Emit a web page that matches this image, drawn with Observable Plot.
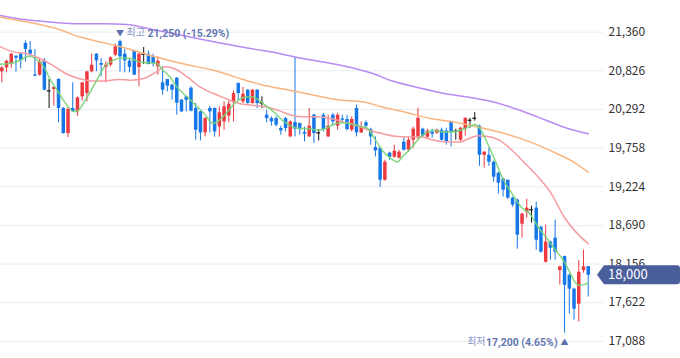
<!DOCTYPE html>
<html><head><meta charset="utf-8">
<script src="https://cdn.jsdelivr.net/npm/d3@7"></script>
<script src="https://cdn.jsdelivr.net/npm/@observablehq/plot@0.6"></script>
<style>
html,body{margin:0;padding:0;background:#fff;}
#chart{width:680px;height:358px;overflow:hidden;}
</style></head><body><div id="chart"></div>
<script>
// ---- daily candles (index 0 = leftmost) ----
const opens  = [20812,20867,20913,21029,21056,21204,21112,20770,20766,20959,20549,20568,20706,20305,19959,20305,20259,20466,20512,20812,21056,20927,20872,20904,21042,21230,21056,20959,21102,20872,21056,21056,21019,20881,20660,20706,20627,20724,20420,20466,20586,20305,20259,19968,20305,20305,20051,20120,20199,20383,20650,20397,20558,20374,20558,20383,20213,20166,20166,20028,20166,19913,20111,20097,19973,19913,20213,19968,20213,19913,20213,20060,20162,20153,20005,20305,19968,20107,20014,19765,19752,19314,19688,19632,19618,19840,19729,19867,19909,20019,19909,19978,19964,20005,19992,20116,19992,19867,20019,20143,20171,20060,19659,19659,19563,19411,19328,19314,19066,19038,18706,18872,18906,18928,18664,18181,18458,18513,18064,18259,18000,17808,17601,18064,18120];
const highs  = [20881,20973,21065,21029,21065,21241,21230,21121,20996,20996,20706,20604,20715,20319,20319,20660,20466,20660,20821,21056,21065,20996,20950,21019,21195,21250,21125,20996,21112,21065,21148,21102,21056,21019,20881,20706,20641,20734,20429,20475,20604,20374,20268,20180,20337,20314,20328,20397,20411,20549,20660,20595,20568,20568,20568,20466,20282,20190,20190,20060,20180,20134,21005,20107,20047,20305,20226,20014,20236,20213,20236,20236,20213,20213,20190,20351,20120,20134,20033,19913,19775,19591,19702,19798,19729,19895,19909,20047,20310,20033,20019,20019,20019,20033,20033,20130,20019,20047,20171,20171,20247,20074,19708,19756,19577,19425,19342,19314,19080,19052,18858,19052,18955,19010,18678,18693,18472,18762,18126,18264,18015,17822,18202,18347,18120];
const lows   = [20660,20798,20858,20807,20853,20950,21019,20745,20752,20549,20305,20337,20107,19950,19904,20254,20199,20406,20397,20798,20812,20743,20660,20881,21019,20807,20798,20798,20761,20604,20913,20909,20881,20766,20489,20535,20420,20213,20250,20259,20259,19867,19858,19913,19968,19908,19908,20005,20107,20120,20411,20374,20365,20365,20305,20305,20107,20060,20051,19936,19982,19904,19913,19936,19844,19904,19821,19858,19982,19904,20060,20005,20097,19996,19982,19913,19959,20028,19798,19636,19212,19300,19591,19618,19610,19715,19702,19757,19867,19909,19881,19895,19950,19853,19798,19775,19867,19853,19923,20033,20130,19507,19480,19507,19287,19121,19080,19052,18941,18361,18513,18790,18720,18347,18306,18167,18209,18209,17863,17200,17463,17380,17356,18029,17700];
const closes = [20867,20959,21056,21001,20964,21121,21056,20752,20950,20558,20549,20595,20305,19959,20291,20259,20452,20660,20812,20904,20964,20904,20904,21005,21158,21019,20964,20872,20766,21056,21056,20913,20927,20959,20558,20614,20558,20379,20259,20420,20268,20005,19968,20166,20259,19982,20245,20328,20365,20512,20512,20503,20374,20558,20374,20383,20166,20120,20074,19996,20028,20120,20019,20014,19950,20060,19959,19968,20014,20060,20120,20213,20143,20014,20153,19968,20051,20060,19913,19719,19314,19563,19632,19715,19702,19729,19867,20019,20171,19923,19992,19950,20005,19867,19840,19978,19992,20033,20171,20143,20171,19659,19701,19563,19356,19273,19176,19066,18969,18554,18845,18928,18906,18485,18319,18458,18375,18319,18117,17862,17808,17532,18043,18117,18000];

// ---- moving averages (position in candle units, price) ----
const ma5Idx = [-0.3,1.6,3.9,5.7,7.1,8.9,10.3,11.7,13.5,15.3,16.2,18.1,19.9,21.7,23.6,25.4,27.2,29.1,30.9,32.7,34.1,35.5,37.3,39.2,41,42.8,44.7,46,47.4,49.2,51.1,52.9,54.3,55.7,57.5,59.3,61.2,63,64.8,66.7,68.5,70.3,72.2,74,75.8,77.2,78.6,80.4,82.3,83.6,85,86.8,88.2,90,91.4,93.3,95.1,96.9,98.8,100.1,101.1,102.4,104.3,106.1,107.9,109.8,111.6,113.4,115.3,117.1,118.5,119.9,121.2,122.1,123.1,124];
const ma5Val = [20918,20927,20973,21029,20996,20881,20697,20558,20374,20259,20282,20466,20674,20881,20973,21005,20996,20950,20936,20927,20835,20743,20581,20466,20351,20236,20097,20143,20236,20374,20457,20466,20420,20351,20259,20143,20060,20028,20028,20005,20028,20088,20107,20088,20060,20037,19913,19729,19613,19567,19659,19775,19890,19982,20005,19982,19982,20005,20051,20083,20028,19867,19590,19314,19129,18945,18853,18668,18507,18346,18230,18069,17907,17861,17871,17894];
const ma20Idx = [-0.3,2.5,5.2,8,10.7,13.5,16.2,19,21.7,24.5,27.2,30,32.7,34.6,36.4,39.2,41.9,44.7,47.4,50.2,52.9,55.7,58.4,61.2,63.9,66.7,69.4,72.2,74.9,77.7,80.4,83.2,85.9,88.7,91.4,94.2,96.9,98.8,100.6,102.4,105.2,107.9,110.7,113.4,116.2,118.9,121.7,124];
const ma20Val = [21158,21088,21065,20996,20904,20789,20720,20687,20687,20706,20697,20720,20812,20881,20858,20743,20604,20512,20443,20374,20351,20328,20282,20213,20190,20190,20166,20120,20074,20005,19959,19922,19913,19913,19867,19844,19844,19890,19927,19922,19867,19729,19544,19360,19129,18806,18576,18438];
const ma60Idx = [-0.3,4.4,8.8,11.8,16.2,20.9,25.3,31.4,39.9,44.1,48.4,50.5,54.7,61.1,65.3,70.6,77.1,80.1,86.4,90.7,94.9,101.2,105.5,111.8,116.7,120.3,124];
const ma60Val = [21567,21512,21453,21404,21300,21224,21155,21038,20900,20844,20762,20716,20637,20554,20499,20430,20388,20333,20236,20167,20126,20043,19974,19840,19702,19587,19425];
const ma120Idx = [-0.3,5.2,10.7,16.2,21.7,26.4,31.9,38.2,45.6,52.9,58.4,63.9,69.4,74.9,78.6,82.2,87.7,93.2,98.7,104.2,109.7,115.2,118.9,124];
const ma120Val = [21591,21531,21498,21476,21476,21466,21397,21314,21218,21130,21070,20992,20931,20854,20785,20692,20600,20517,20462,20393,20278,20140,20047,19956];

// ---- y-axis tick labels ----
const yTicks = [21360, 20826, 20292, 19758, 19224, 18690, 18156, 17622, 17088];
const lastPrice = closes[closes.length - 1];

const RED = "#ec3a40", BLUE = "#1677e8", DOJI = "#111111";
const candles = opens.map((o, i) => ({i, o, h: highs[i], l: lows[i], c: closes[i],
  col: closes[i] > o ? RED : closes[i] < o ? BLUE : DOJI}));
const bodies = candles.filter(d => d.col !== DOJI);
const dojis = candles.filter(d => d.col === DOJI);
const toPts = (xs, vs) => xs.map((x, k) => ({x, v: vs[k]}));

const hiI = d3.maxIndex(highs), loI = d3.minIndex(lows);
const hiPt = [{i: hiI, v: highs[hiI]}];
const loPt = [{i: loI, v: lows[loI]}];
const fmt = d3.format(",");
const pct = v => (lastPrice / v - 1) * 100;
const hiText = `${fmt(highs[hiI])} (${pct(highs[hiI]).toFixed(2)}%)`;
const loText = `${fmt(lows[loI])} (${pct(lows[loI]).toFixed(2)}%)`;

const FONT = "'Noto Sans CJK KR','Noto Sans',sans-serif";
const NUMFONT = "Roboto,'Noto Sans CJK KR',sans-serif";
const plot = Plot.plot({
  width: 680, height: 358,
  marginTop: 0, marginBottom: 0, marginLeft: 0, marginRight: 77,
  x: {domain: [-0.275, 127.23], axis: null},
  y: {domain: [16850, 21798], axis: null},
  color: {type: "identity"},
  style: {fontFamily: FONT, background: "#fff", overflow: "visible"},
  marks: [
    Plot.gridY(yTicks, {stroke: "#e9ecf1", strokeOpacity: 1}),
    Plot.axisY(yTicks, {anchor: "right", tickSize: 0, tickPadding: 5, tickFormat: fmt, fontSize: 12, color: "#333"}),
    Plot.ruleX(candles, {x: "i", y1: "l", y2: "h", stroke: "col", strokeWidth: 1}),
    Plot.ruleX(bodies, {x: "i", y1: "o", y2: "c", stroke: "col", strokeWidth: 3.5}),
    Plot.ruleY(dojis, {y: "o", x1: d => d.i - 0.4, x2: d => d.i + 0.4, stroke: DOJI, strokeWidth: 1.2}),
    Plot.line(toPts(ma120Idx, ma120Val), {x: "x", y: "v", stroke: "#b98af2", strokeWidth: 1.5, curve: "monotone-x"}),
    Plot.line(toPts(ma60Idx, ma60Val), {x: "x", y: "v", stroke: "#f8b57f", strokeWidth: 1.5, curve: "monotone-x"}),
    Plot.line(toPts(ma20Idx, ma20Val), {x: "x", y: "v", stroke: "#f69c9f", strokeWidth: 1.5, curve: "monotone-x"}),
    Plot.line(toPts(ma5Idx, ma5Val), {x: "x", y: "v", stroke: "#74d474", strokeWidth: 1.5, curve: "monotone-x", strokeOpacity: 0.9}),
    // high annotation
    Plot.text(hiPt, {x: "i", y: "v", text: () => "▼", dy: -7, fontSize: 8, fill: "#5d70ab"}),
    Plot.text(hiPt, {x: "i", y: "v", text: () => "최고", textAnchor: "start", dx: 6.5, dy: -7, fontSize: 10, fill: "#8896c4"}),
    Plot.text(hiPt, {x: "i", y: "v", text: () => hiText, textAnchor: "start", dx: 27.5, dy: -7, fontSize: 10.5, fontWeight: "bold", fill: "#6577b1", fontFamily: NUMFONT}),
    // low annotation
    Plot.text(loPt, {x: "i", y: "v", text: () => "▲", dy: 9, fontSize: 8, fill: "#5d70ab"}),
    Plot.text(loPt, {x: "i", y: "v", text: () => loText, textAnchor: "end", dx: -7, dy: 9, fontSize: 10.5, fontWeight: "bold", fill: "#6577b1", fontFamily: NUMFONT}),
    Plot.text(loPt, {x: "i", y: "v", text: () => "최저", textAnchor: "end", dx: -79, dy: 9, fontSize: 10, fill: "#8896c4"})
  ]
});

// current-price tag on the right axis
const yy = plot.scale("y").apply(lastPrice);
const svg = d3.select(plot);
svg.append("path")
  .attr("d", `M597,${yy} L604,${yy - 9.5} H677 Q680,${yy - 9.5} 680,${yy - 6.5} V${yy + 6.5} Q680,${yy + 9.5} 677,${yy + 9.5} H604 Z`)
  .attr("fill", "#4a5e9b");
svg.append("text")
  .attr("x", 608).attr("y", yy).attr("dy", "0.35em")
  .attr("text-anchor", "start")
  .attr("fill", "#fff").attr("font-size", 13).attr("font-family", FONT)
  .text(fmt(lastPrice));

document.getElementById("chart").appendChild(plot);
</script>
</body></html>
